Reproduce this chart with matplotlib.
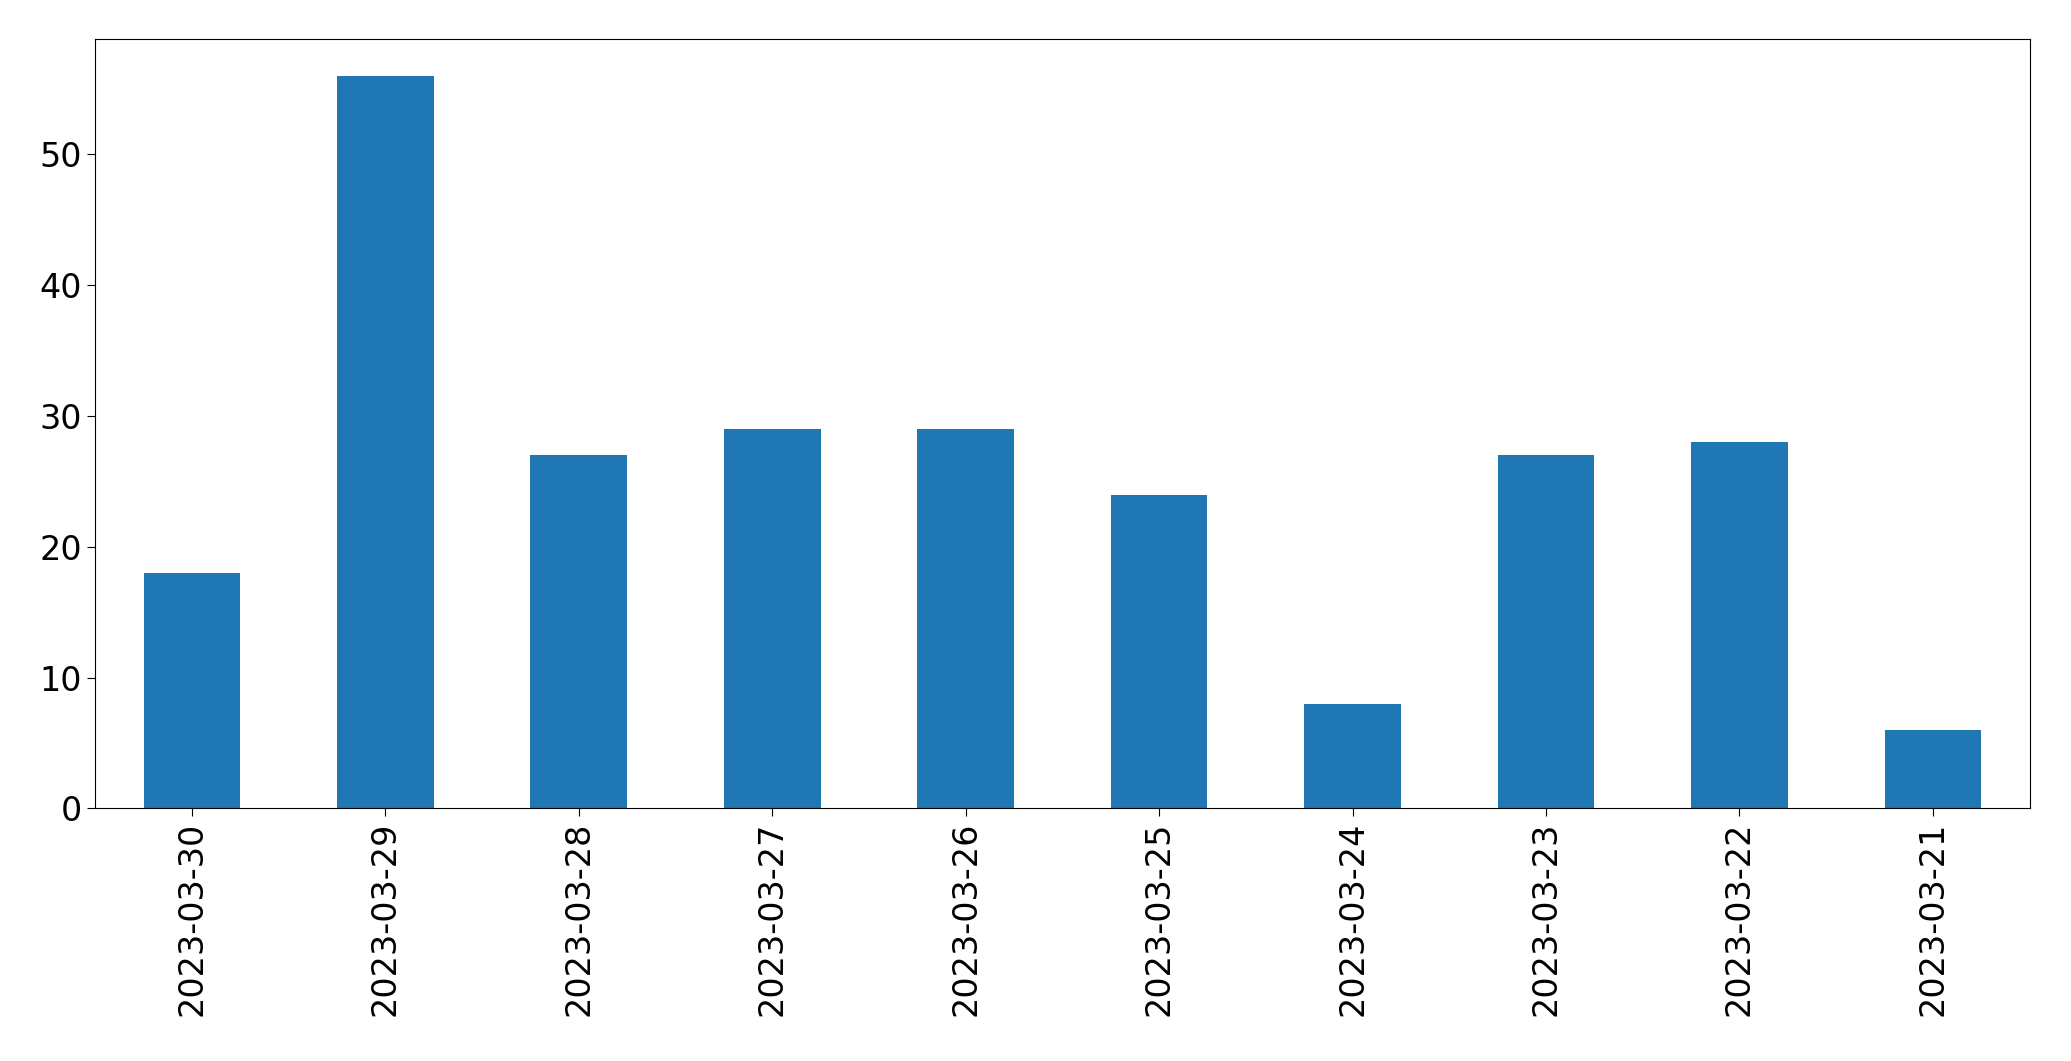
import matplotlib
matplotlib.use("Agg")
import matplotlib.pyplot as plt
import numpy as np

dates = ['2023-03-30', '2023-03-29', '2023-03-28', '2023-03-27', '2023-03-26',
         '2023-03-25', '2023-03-24', '2023-03-23', '2023-03-22', '2023-03-21']
counts = [18, 56, 27, 29, 29, 24, 8, 27, 28, 6]

fig = plt.figure(figsize=(20.71, 10.61), dpi=100)
ax = fig.add_axes([0.046, 0.238, 0.934, 0.725])
x = np.arange(len(dates))
ax.bar(x, counts, width=0.5, color='#1f77b4')
ax.set_xlim(-0.5, len(dates) - 0.5)
ax.set_ylim(0, max(counts) * 1.05)
ax.set_xticks(x)
ax.set_xticklabels(dates, rotation=90)
ax.tick_params(labelsize=24, length=6)
fig.savefig('out.png', dpi=100)
